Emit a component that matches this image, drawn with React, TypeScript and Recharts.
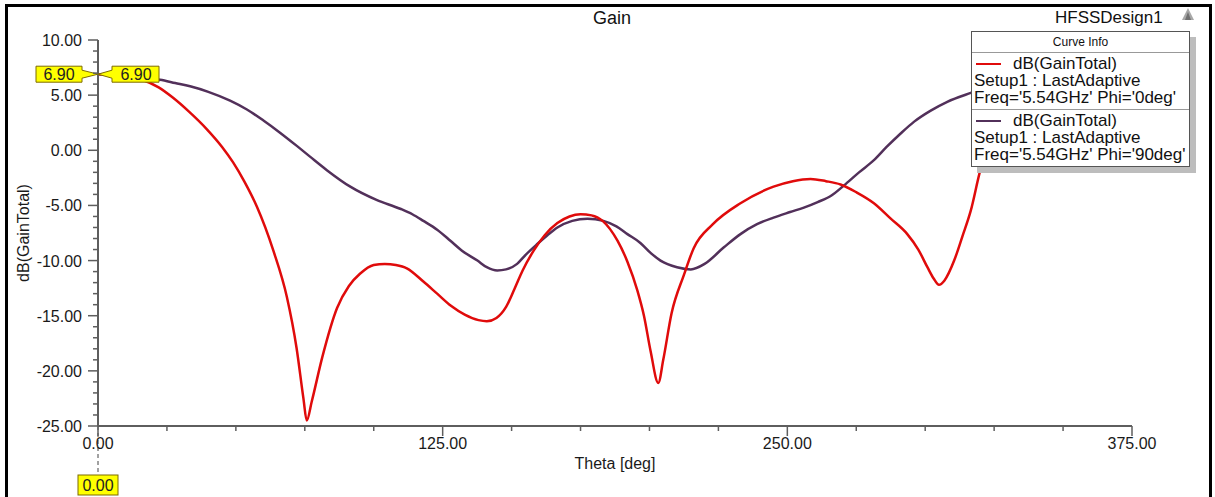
import { LineChart, Line, XAxis, YAxis, ReferenceDot, Legend } from 'recharts'

// Gain cut at Phi = 0deg
const thetaPhi0 = [
  0, 5, 10, 16, 22, 27, 33, 39.5, 45, 49, 53, 57.6, 63.6, 68.5, 72, 74.5, 75.7, 77.5, 81.3, 86.7,
  91, 95, 100, 104, 108, 112, 118, 123, 128, 133, 138, 141, 144.5, 148, 151, 154, 158, 162, 166.6, 171,
  175, 179, 183, 188.4, 192, 195.6, 198, 200.4, 203.2, 205, 208, 212.5, 216, 223, 233, 245, 252, 258.4, 264, 269.3,
  275, 281.4, 287.5, 293.5, 297.5, 300.8, 303, 305, 307, 310.5, 313.5, 316.5, 320, 325, 332, 340, 350, 360,
]
const gainPhi0 = [
  6.9, 6.85, 6.7, 6.4, 5.7, 4.8, 3.5, 1.9, 0.3, -1.1, -2.8, -5.1, -9.1, -13.3, -17.9, -22.5, -24.5, -22.8, -18.8, -14.3,
  -12.3, -11.2, -10.4, -10.3, -10.4, -10.7, -11.9, -13.0, -14.1, -14.9, -15.4, -15.5, -15.2, -14.2, -12.6, -10.9, -9.1, -7.7, -6.6, -6.0,
  -5.8, -5.9, -6.4, -8.2, -10.1, -12.7, -15.0, -18.2, -21.1, -19.0, -14.8, -11.3, -8.9, -6.7, -4.8, -3.3, -2.8, -2.6, -2.8, -3.1,
  -3.8, -4.8, -6.2, -7.6, -9.0, -10.6, -11.6, -12.2, -11.8, -10.0, -7.8, -5.5, -1.8, 1.5, 4.0, 5.6, 6.6, 6.9,
]

// Gain cut at Phi = 90deg
const thetaPhi90 = [
  0, 10, 16, 22.5, 28, 33.4, 40, 47.9, 54, 60, 66, 72.1, 77, 83, 91.5, 101, 109.6, 114, 118, 123,
  127.8, 132, 137.6, 141, 144.8, 148, 152, 155, 159.3, 163, 166.6, 172, 177.5, 183.3, 188, 192, 196.7, 200.4, 204, 210,
  215, 220, 227, 233, 239, 245, 251, 256, 261, 266, 270.5, 276, 281.4, 286, 291, 296, 302, 308, 316.5, 325,
  335, 345, 360,
]
const gainPhi90 = [
  6.9, 6.8, 6.6, 6.4, 6.1, 5.8, 5.3, 4.5, 3.7, 2.7, 1.6, 0.4, -0.6, -1.8, -3.3, -4.5, -5.3, -5.8, -6.4, -7.2,
  -8.2, -9.1, -10.0, -10.6, -10.9, -10.8, -10.3, -9.5, -8.5, -7.7, -7.0, -6.4, -6.2, -6.4, -6.9, -7.6, -8.4, -9.3, -10.0, -10.6,
  -10.8, -10.3, -8.8, -7.6, -6.7, -6.1, -5.6, -5.2, -4.7, -4.1, -3.2, -2.0, -0.9, 0.3, 1.5, 2.6, 3.6, 4.4, 5.2, 5.9,
  6.4, 6.7, 6.9,
]

const curveName = 'dB(GainTotal)'
const setupName = 'Setup1 : LastAdaptive'
const curveParams = ["Freq='5.54GHz' Phi='0deg'", "Freq='5.54GHz' Phi='90deg'"]
const curveColors = ['#e00b0b', '#52305a']

const xTicks = [0, 25, 50, 75, 100, 125, 150, 175, 200, 225, 250, 275, 300, 325, 350, 375]
const xLabeled = [0, 125, 250, 375]
const yTicks = Array.from({ length: 36 }, (_, i) => -25 + i)

const markerTheta = 0
const markerGain = 6.9

const phi0Data = thetaPhi0.map((theta, i) => ({ theta, gain: gainPhi0[i] }))
const phi90Data = thetaPhi90.map((theta, i) => ({ theta, gain: gainPhi90[i] }))

const FONT = '"Liberation Sans", Arial, sans-serif'
const AXIS = '#5e5e5e'
const YELLOW = '#ffff00'
const MARK_EDGE = '#7d6b00'

const XTick = (props: any) => {
  const { x, y, payload } = props
  const major = xLabeled.includes(payload.value)
  return (
    <g>
      <line x1={x} x2={x} y1={y} y2={y + (major ? 10 : 5)} stroke={AXIS} strokeWidth={1.5} />
      {major && (
        <text x={x} y={y + 23} textAnchor="middle" fontSize={16} fontFamily={FONT} fill="#1a1a1a">
          {payload.value.toFixed(2)}
        </text>
      )}
    </g>
  )
}

const YTick = (props: any) => {
  const { x, y, payload } = props
  const major = payload.value % 5 === 0
  return (
    <g>
      <line x1={x - (major ? 10 : 5)} x2={x} y1={y} y2={y} stroke={AXIS} strokeWidth={1.5} />
      {major && (
        <text x={x - 16} y={y + 6} textAnchor="end" fontSize={16} fontFamily={FONT} fill="#1a1a1a">
          {payload.value.toFixed(2)}
        </text>
      )}
    </g>
  )
}

// pair of value tags pointing at the start point of both curves
const StartMarker = (props: any) => {
  const { cx, cy } = props
  const label = markerGain.toFixed(2)
  return (
    <g fontFamily={FONT}>
      <path
        d={`M${cx - 62},${cy - 8} H${cx - 16} V${cy - 4} L${cx},${cy} L${cx - 16},${cy + 4} V${cy + 8} H${cx - 62} Z`}
        fill={YELLOW}
        stroke={MARK_EDGE}
        strokeWidth={1}
      />
      <text x={cx - 39} y={cy + 6} textAnchor="middle" fontSize={16} fill="#222">{label}</text>
      <path
        d={`M${cx},${cy} L${cx + 14},${cy - 4} V${cy - 8} H${cx + 61} V${cy + 8} H${cx + 14} V${cy + 4} Z`}
        fill={YELLOW}
        stroke={MARK_EDGE}
        strokeWidth={1}
      />
      <text x={cx + 38} y={cy + 6} textAnchor="middle" fontSize={16} fill="#222">{label}</text>
    </g>
  )
}

const ThetaMarker = (props: any) => {
  const { cx, cy } = props
  return (
    <g fontFamily={FONT}>
      <line x1={cx} x2={cx} y1={cy} y2={cy + 49} stroke="#444" strokeWidth={1} strokeDasharray="4 3" />
      <rect x={cx - 20} y={cy + 49} width={40} height={20} fill={YELLOW} stroke={MARK_EDGE} strokeWidth={1} />
      <text x={cx} y={cy + 65} textAnchor="middle" fontSize={16} fill="#222">{markerTheta.toFixed(2)}</text>
    </g>
  )
}

const CurveInfo = () => (
  <div
    style={{
      width: 217,
      background: '#fff',
      border: '1px solid #555',
      boxShadow: '6px 6px 0 #bdbdbd',
      fontFamily: FONT,
      color: '#111',
    }}
  >
    <div style={{ height: 20, lineHeight: '20px', fontSize: 12, textAlign: 'center', borderBottom: '1px solid #999' }}>
      Curve Info
    </div>
    {curveParams.map((param, i) => (
      <div
        key={param}
        style={{
          padding: '2px 0 3px 2px',
          fontSize: 17,
          lineHeight: '17px',
          borderBottom: i === 0 ? '1px solid #999' : 'none',
          whiteSpace: 'nowrap',
        }}
      >
        <div style={{ display: 'flex', alignItems: 'center' }}>
          <span style={{ display: 'inline-block', width: 25, height: 2, background: curveColors[i], margin: '0 12px 0 2px' }} />
          {curveName}
        </div>
        <div>{setupName}</div>
        <div>{param}</div>
      </div>
    ))}
  </div>
)

export default function App() {
  return (
    <div style={{ position: 'relative', width: 1215, height: 497, background: '#fff', overflow: 'hidden' }}>
      <style>{'body{margin:0}'}</style>
      <LineChart width={1215} height={497} margin={{ top: 40, right: 83, bottom: 41, left: 38 }}>
        <XAxis
          dataKey="theta"
          type="number"
          domain={[0, 375]}
          ticks={xTicks}
          interval={0}
          tickSize={0}
          tickMargin={0}
          height={30}
          axisLine={{ stroke: AXIS, strokeWidth: 2 }}
          tick={<XTick />}
          allowDataOverflow
        />
        <XAxis xAxisId="top" orientation="top" type="number" domain={[0, 375]} height={0} tick={false} tickLine={false} axisLine={{ stroke: AXIS, strokeWidth: 2 }} />
        <YAxis
          type="number"
          domain={[-25, 10]}
          ticks={yTicks}
          interval={0}
          tickSize={0}
          tickMargin={0}
          width={60}
          axisLine={{ stroke: AXIS, strokeWidth: 2 }}
          tick={<YTick />}
          allowDataOverflow
        />
        <YAxis yAxisId="right" orientation="right" type="number" domain={[-25, 10]} width={0} tick={false} tickLine={false} axisLine={{ stroke: AXIS, strokeWidth: 2 }} />
        <Line data={phi90Data} dataKey="gain" type="monotone" stroke={curveColors[1]} strokeWidth={2.5} dot={false} isAnimationActive={false} />
        <Line data={phi0Data} dataKey="gain" type="monotone" stroke={curveColors[0]} strokeWidth={2.5} dot={false} isAnimationActive={false} />
        <ReferenceDot x={markerTheta} y={markerGain} ifOverflow="visible" shape={(p: any) => <StartMarker {...p} />} />
        <ReferenceDot x={markerTheta} y={-25} ifOverflow="visible" shape={(p: any) => <ThetaMarker {...p} />} />
        <Legend
          layout="horizontal"
          verticalAlign="middle"
          align="center"
          wrapperStyle={{ left: 971, top: 31, width: 219, height: 134 }}
          content={() => <CurveInfo />}
        />
      </LineChart>
      <svg width={1215} height={497} style={{ position: 'absolute', left: 0, top: 0, pointerEvents: 'none' }} fontFamily={FONT}>
        <rect x={6.5} y={5.5} width={1204} height={520} fill="none" stroke="#000" strokeWidth={3} />
        <text x={612} y={24} textAnchor="middle" fontSize={18} fill="#111">Gain</text>
        <text x={1055} y={23} fontSize={17} fill="#111">HFSSDesign1</text>
        <polygon points="1188,8 1194,20 1182,20" fill="#a8a8a8" />
        <polygon points="1188,12 1191,20 1185,20" fill="#707070" />
        <text x={615} y={469} textAnchor="middle" fontSize={16} fill="#1a1a1a">Theta [deg]</text>
        <text x={29} y={233} textAnchor="middle" fontSize={16} fill="#1a1a1a" transform="rotate(-90 29 233)">
          dB(GainTotal)
        </text>
      </svg>
    </div>
  )
}
